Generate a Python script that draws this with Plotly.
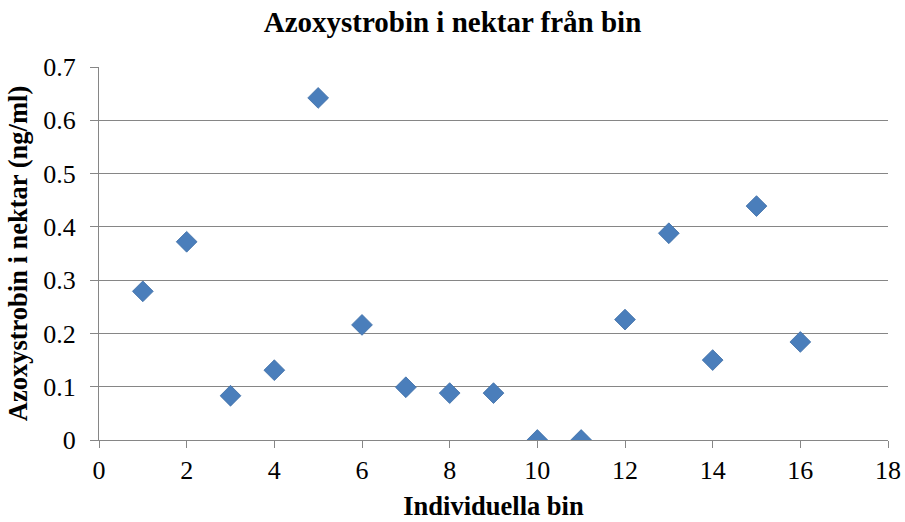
import plotly.graph_objects as go

bees = [1, 2, 3, 4, 5, 6, 7, 8, 9, 10, 11, 12, 13, 14, 15, 16]
azoxystrobin = [0.279, 0.372, 0.083, 0.131, 0.642, 0.216, 0.099, 0.088, 0.088, 0.0, 0.0, 0.226, 0.388, 0.150, 0.439, 0.184]

x_ticks = [0, 2, 4, 6, 8, 10, 12, 14, 16, 18]
y_ticks = [0, 0.1, 0.2, 0.3, 0.4, 0.5, 0.6, 0.7]

fig = go.Figure(go.Scatter(
    x=bees, y=azoxystrobin, mode="markers",
    marker=dict(symbol="diamond", size=16, color="#4A7EBB", line=dict(width=0.8, color="#3E6DA6")),
))

font = "Liberation Serif, Times New Roman, serif"
fig.update_layout(
    width=905, height=522,
    margin=dict(l=99, r=17, t=67, b=82),
    paper_bgcolor="white", plot_bgcolor="white",
    font=dict(family=font, color="black", size=26),
    title=dict(text="<b>Azoxystrobin i nektar från bin</b>", x=0.5, xanchor="center",
               yref="container", y=1 - 22 / 522, yanchor="middle", font=dict(size=29, family=font)),
    showlegend=False,
)
fig.update_xaxes(
    range=[0, 18], tickvals=x_ticks, ticktext=[str(v) for v in x_ticks],
    showgrid=False, zeroline=False, showline=True, linecolor="#868686", linewidth=1,
    ticks="outside", ticklen=7, tickcolor="#868686", tickfont=dict(size=26),
    automargin=False,
    title=dict(text="<b>Individuella bin</b>", font=dict(size=26.5), standoff=12),
)
fig.update_yaxes(
    range=[0, 0.7], tickvals=y_ticks, ticktext=["0", "0.1", "0.2", "0.3", "0.4", "0.5", "0.6", "0.7"],
    showgrid=True, gridcolor="#868686", gridwidth=1, zeroline=False,
    showline=True, linecolor="#868686", linewidth=1,
    ticks="outside", ticklen=8, tickcolor="#868686", tickfont=dict(size=26),
    ticklabelstandoff=9, automargin=False,
    title=dict(text="<b>Azoxystrobin i nektar (ng/ml)</b>", font=dict(size=26.5), standoff=8),
)
fig.write_html("out.html", config={"displayModeBar": False},
               post_script="document.body.style.margin='0';document.body.style.overflow='hidden';")
